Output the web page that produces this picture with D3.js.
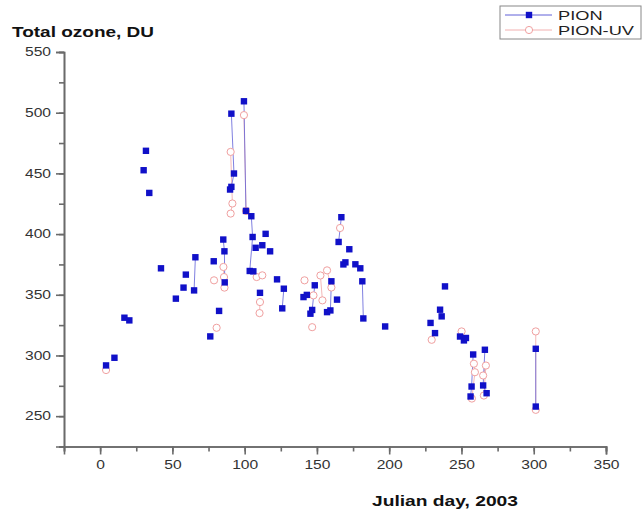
<!DOCTYPE html>
<html><head><meta charset="utf-8">
<script src="https://cdn.jsdelivr.net/npm/d3@7/dist/d3.min.js"></script>
<style>
html,body{margin:0;padding:0;background:#fff;}
svg{display:block;font-family:"Liberation Sans",Arial,sans-serif;}
</style></head>
<body><svg id="c" width="642" height="512"></svg>
<script>
// ---- data: [Julian day, total ozone DU]; null separates measurement groups ----
const pion = [
  [4.1,291.8],null,[9.9,298.1],null,[16.8,331.1],null,[20.2,328.9],null,
  [30.1,452.6],null,[31.7,468.6],null,[34.0,433.9],null,[42.1,371.8],null,
  [52.4,346.8],null,[57.7,355.9],null,[59.3,366.6],null,
  [65.9,380.9],[65.0,353.6],null,[76.2,315.7],null,[78.6,377.6],null,[82.3,336.7],null,
  [85.2,395.5],[86.0,385.8],[86.2,360.2],null,
  [90.8,499.2],[92.6,449.9],[90.8,438.9],[89.9,436.7],null,
  [99.5,509.4],[100.9,419.1],[104.6,414.7],[105.5,397.6],[103.5,369.6],null,
  [106.0,369.3],null,[107.6,388.7],null,[112.2,390.8],null,[114.5,400.2],null,
  [117.6,385.8],null,[110.6,351.6],null,[122.4,362.7],null,
  [127.1,355.0],[126.0,338.8],null,[140.7,348.1],null,[143.0,349.9],null,
  [145.5,334.4],[146.7,337.5],[148.5,357.8],null,
  [157.0,335.7],[159.3,337.1],[160.0,361.1],null,[163.9,346.0],null,
  [165.0,393.5],[166.9,413.9],null,[168.3,375.0],null,[169.7,376.7],null,
  [172.4,387.5],null,[176.6,375.1],null,[180.0,371.8],null,
  [181.4,361.1],[182.1,330.5],null,[197.2,323.9],null,
  [228.6,326.8],null,[231.7,318.4],null,[235.2,337.7],[236.3,332.2],null,[238.6,356.9],null,
  [249.0,315.6],null,[251.7,312.4],null,[253.1,314.4],null,
  [258.1,300.8],[257.0,274.4],[256.3,266.2],null,
  [266.2,304.7],[265.0,275.3],[267.4,268.9],null,
  [301.4,305.5],[301.4,257.9]
];
const pionUV = [
  [4.1,288.0],null,[78.8,361.9],null,[80.6,322.8],null,
  [85.3,372.9],[85.7,364.6],[86.0,355.9],null,
  [90.3,467.7],[91.5,425.2],[90.3,416.9],null,
  [99.5,498.0],[101.0,419.0],null,
  [108.3,364.6],null,[112.2,366.0],null,[110.6,344.0],[110.3,334.9],null,
  [141.4,361.9],null,[146.7,323.3],null,[147.6,349.5],null,
  [152.4,365.9],[153.8,345.4],null,[157.0,370.1],[160.0,356.0],null,
  [166.0,405.0],null,[229.4,312.9],null,[250.1,319.8],null,
  [258.6,293.2],[259.3,286.2],[257.2,264.5],null,
  [265.0,283.5],[266.9,291.7],[265.5,267.0],null,
  [301.4,319.8],[301.4,255.2]
];
const xTicks = [0,50,100,150,200,250,300,350];
const yTicks = [250,300,350,400,450,500,550];
const seriesNames = ["PION","PION-UV"];

const svg = d3.select("#c");
const x = d3.scaleLinear().domain([-25,350]).range([64,606]);
const y = d3.scaleLinear().domain([225,550]).range([446.5,52]);
const axisCol = "#6a6a6a", textCol = "#333";

function stretch(sel, k){
  sel.each(function(){
    const w = this.getComputedTextLength();
    this.setAttribute("textLength", w*k);
    this.setAttribute("lengthAdjust","spacingAndGlyphs");
  });
}
function fitTo(sel, w){
  sel.attr("textLength", w).attr("lengthAdjust","spacingAndGlyphs");
}

// axes with major and minor ticks
const gx = svg.append("g").attr("transform","translate(0,446.5)");
gx.call(d3.axisBottom(x).tickValues(d3.range(-25,351,25)).tickSize(5).tickFormat(""));
gx.append("g").call(d3.axisBottom(x).tickValues(xTicks).tickSize(8).tickPadding(6).tickFormat(d3.format("d")));
gx.selectAll("path,line").attr("stroke",axisCol).attr("stroke-width",1.6);
gx.selectAll("text").attr("fill",textCol).attr("font-size",12).attr("font-family","Liberation Sans, Arial").call(stretch,1.3);

const gy = svg.append("g").attr("transform","translate(64,0)");
gy.call(d3.axisLeft(y).tickValues(d3.range(225,551,25)).tickSize(5).tickFormat(""));
gy.append("g").call(d3.axisLeft(y).tickValues(yTicks).tickSize(8).tickPadding(5).tickFormat(d3.format("d")));
gy.selectAll("path,line").attr("stroke",axisCol).attr("stroke-width",1.6);
gy.selectAll("text").attr("fill",textCol).attr("font-size",12).attr("font-family","Liberation Sans, Arial").call(stretch,1.3);

// axis titles
svg.append("text").attr("x",12).attr("y",37).attr("font-weight","bold").attr("font-size",14)
  .attr("fill","#111").text("Total ozone, DU").call(fitTo,142);
svg.append("text").attr("x",372).attr("y",506).attr("font-weight","bold").attr("font-size",14)
  .attr("fill","#111").text("Julian day, 2003").call(fitTo,146);

// connecting lines (within a measurement group)
const line = d3.line().defined(d=>d).x(d=>x(d[0])).y(d=>y(d[1]));
svg.append("path").datum(pionUV).attr("d",line).attr("fill","none").attr("stroke","#f2b0b0").attr("stroke-width",0.9);
svg.append("path").datum(pion).attr("d",line).attr("fill","none").attr("stroke","#6060d8").attr("stroke-width",0.8);

// markers
svg.append("g").selectAll("circle").data(pionUV.filter(d=>d)).join("circle")
  .attr("cx",d=>x(d[0])).attr("cy",d=>y(d[1])).attr("r",3.6)
  .attr("fill","#fff").attr("stroke","#f0a0a0").attr("stroke-width",1);
svg.append("g").selectAll("rect").data(pion.filter(d=>d)).join("rect")
  .attr("x",d=>x(d[0])-3.2).attr("y",d=>y(d[1])-3.2).attr("width",6.4).attr("height",6.4)
  .attr("fill","#1010c8");

// legend
const lg = svg.append("g");
lg.append("rect").attr("x",500).attr("y",6).attr("width",141).attr("height",33)
  .attr("fill","#fff").attr("stroke","#888").attr("stroke-width",1);
const ly = [15,30];
lg.append("line").attr("x1",505).attr("x2",552).attr("y1",ly[0]).attr("y2",ly[0]).attr("stroke","#6060d8");
lg.append("rect").attr("x",525.8).attr("y",ly[0]-3.2).attr("width",6.4).attr("height",6.4).attr("fill","#1010c8");
lg.append("line").attr("x1",505).attr("x2",552).attr("y1",ly[1]).attr("y2",ly[1]).attr("stroke","#f2b0b0");
lg.append("circle").attr("cx",529).attr("cy",ly[1]).attr("r",3.6).attr("fill","#fff").attr("stroke","#f0a0a0");
lg.selectAll("text.lt").data(seriesNames).join("text").attr("class","lt")
  .attr("x",558).attr("y",(d,i)=>ly[i]+5).attr("font-size",13.5).attr("fill","#222").text(d=>d).call(stretch,1.35);
</script></body></html>
